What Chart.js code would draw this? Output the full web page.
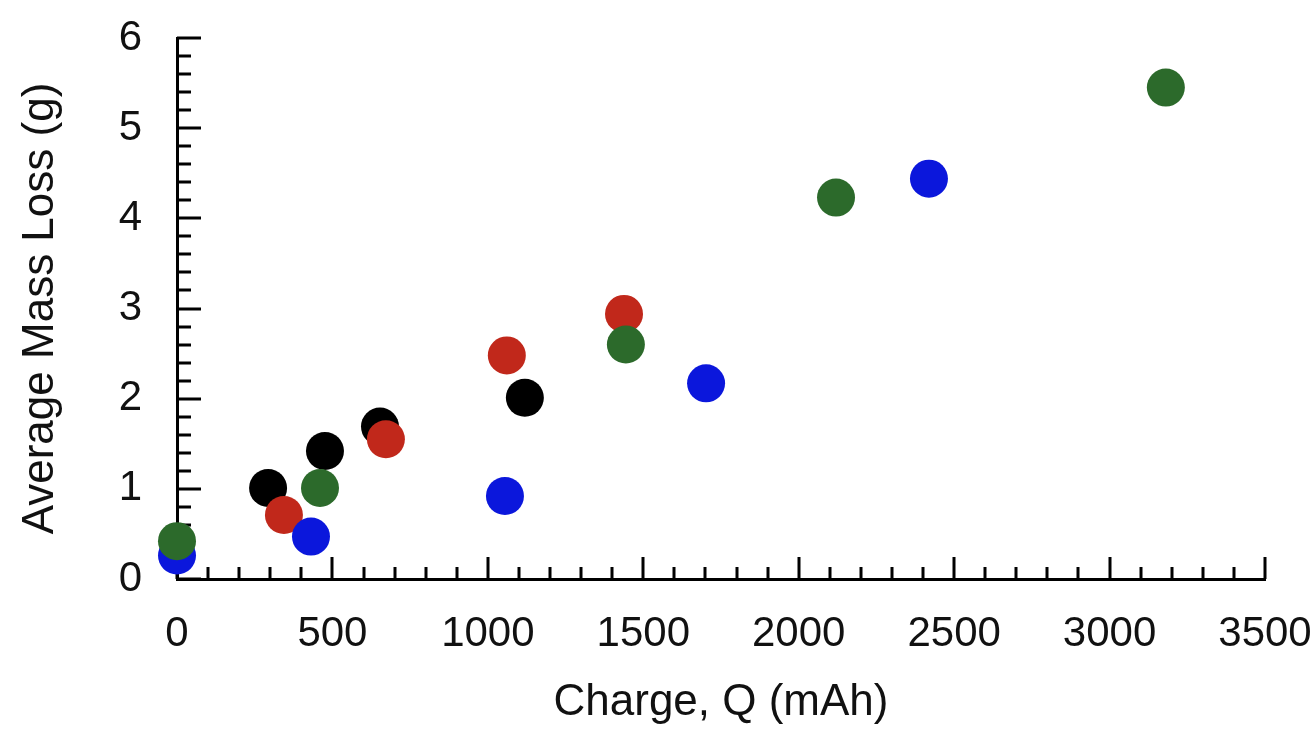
<!DOCTYPE html>
<html lang="en">
<head>
  <meta charset="UTF-8">
  <title>Average Mass Loss vs Charge</title>
  <script src="https://cdn.jsdelivr.net/npm/chart.js"></script>
  <style>
    html, body { margin: 0; padding: 0; background: #fff; }
    #wrap { width: 1316px; height: 732px; }
  </style>
</head>
<body>
  <div id="wrap"><canvas id="massChart" width="1316" height="732"></canvas></div>
  <script>
    // Values
    const blackQ = [293, 476, 653, 1119];
    const blackLoss = [1.01, 1.42, 1.69, 2.01];

    const redQ = [344, 672, 1061, 1438];
    const redLoss = [0.71, 1.55, 2.48, 2.94];

    const greenQ = [0, 460, 1444, 2120, 3181];
    const greenLoss = [0.42, 1.01, 2.60, 4.23, 5.45];

    const blueQ = [0, 431, 1055, 1702, 2419];
    const blueLoss = [0.26, 0.47, 0.92, 2.17, 4.44];

    const xTicks = [0, 500, 1000, 1500, 2000, 2500, 3000, 3500];
    const yTicks = [0, 1, 2, 3, 4, 5, 6];

    function pts(xs, ys) {
      return xs.map((x, i) => ({ x: x, y: ys[i] }));
    }

    // inward major + minor tick marks, drawn from the scales
    const innerTicks = {
      id: 'innerTicks',
      beforeDatasetsDraw(chart) {
        const ctx = chart.ctx;
        const xs = chart.scales.x, ys = chart.scales.y;
        const area = chart.chartArea;
        ctx.save();
        ctx.strokeStyle = '#000';
        ctx.lineWidth = 3;
        ctx.beginPath();
        for (let v = 0; v <= 3500; v += 100) {
          const px = Math.round(xs.getPixelForValue(v));
          const len = v % 500 === 0 ? 22 : 12;
          ctx.moveTo(px, area.bottom);
          ctx.lineTo(px, area.bottom - len);
        }
        for (let k = 0; k <= 30; k++) {
          const py = Math.round(ys.getPixelForValue(k / 5));
          const len = k % 5 === 0 ? 24 : 14;
          ctx.moveTo(area.left, py);
          ctx.lineTo(area.left + len, py);
        }
        ctx.stroke();
        ctx.restore();
      }
    };

    const tickFont = { family: '"Liberation Sans", Arial, sans-serif', size: 42 };
    const titleFont = { family: '"Liberation Sans", Arial, sans-serif', size: 44 };

    function dot(label, color, data, order) {
      return {
        label: label,
        data: data,
        backgroundColor: color,
        borderWidth: 0,
        pointRadius: 19,
        pointHoverRadius: 19,
        clip: false,
        order: order
      };
    }

    new Chart(document.getElementById('massChart').getContext('2d'), {
      type: 'scatter',
      data: {
        datasets: [
          dot('Black', '#000000', pts(blackQ, blackLoss), 3),
          dot('Red', '#c1281b', pts(redQ, redLoss), 2),
          dot('Blue', '#0b17dc', pts(blueQ, blueLoss), 1),
          dot('Green', '#2c6a2b', pts(greenQ, greenLoss), 0)
        ]
      },
      options: {
        responsive: false,
        animation: false,
        events: [],
        layout: { padding: { left: 0, right: 51, top: 38, bottom: 0 } },
        plugins: { legend: { display: false }, tooltip: { enabled: false } },
        scales: {
          x: {
            type: 'linear',
            min: 0,
            max: 3500,
            afterBuildTicks: s => { s.ticks = xTicks.map(v => ({ value: v })); },
            afterFit: s => { s.height = 153; s.paddingLeft = 0; s.paddingRight = 0; },
            grid: { display: false, drawTicks: false },
            border: { display: true, color: '#000', width: 3 },
            ticks: { color: '#111', font: tickFont, padding: 30, maxRotation: 0, callback: v => String(v) },
            title: { display: true, text: 'Charge, Q (mAh)', color: '#111', font: titleFont, padding: { top: 0, bottom: 3 } }
          },
          y: {
            type: 'linear',
            min: 0,
            max: 6,
            afterBuildTicks: s => { s.ticks = yTicks.map(v => ({ value: v })); },
            afterFit: s => { s.width = 177; s.paddingTop = 0; s.paddingBottom = 0; },
            grid: { display: false, drawTicks: false },
            border: { display: true, color: '#000', width: 3 },
            ticks: { color: '#111', font: tickFont, padding: 35, callback: v => String(v) },
            title: { display: true, text: 'Average Mass Loss (g)', color: '#111', font: titleFont, padding: { top: 14, bottom: 0 } }
          }
        }
      },
      plugins: [innerTicks]
    });
  </script>
</body>
</html>
